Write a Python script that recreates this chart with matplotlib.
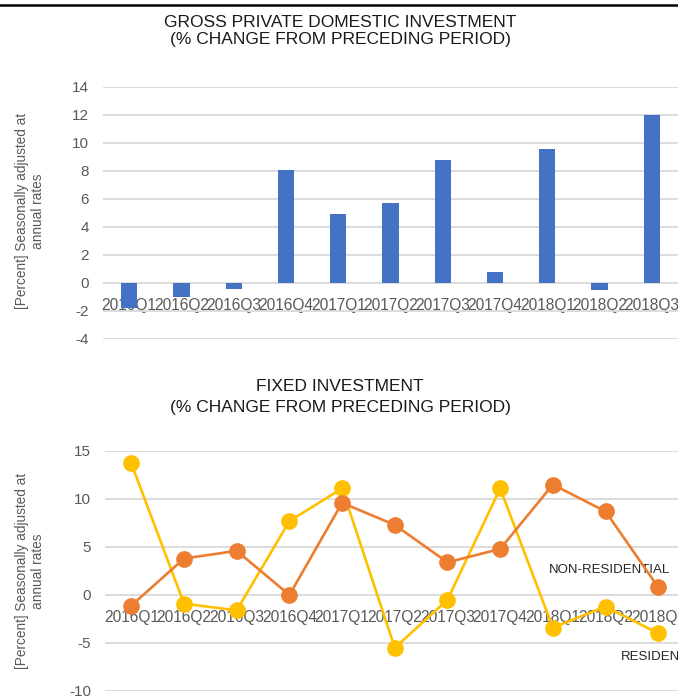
import matplotlib
matplotlib.use("Agg")
import matplotlib.pyplot as plt
from matplotlib.lines import Line2D
from matplotlib import font_manager

quarters = ["2016Q1", "2016Q2", "2016Q3", "2016Q4", "2017Q1", "2017Q2",
            "2017Q3", "2017Q4", "2018Q1", "2018Q2", "2018Q3"]
gross_investment = [-1.8, -1.0, -0.4, 8.1, 4.9, 5.7, 8.8, 0.8, 9.6, -0.5, 12.0]
non_residential = [-1.1, 3.8, 4.6, 0.0, 9.6, 7.3, 3.4, 4.8, 11.5, 8.7, 0.8]
residential = [13.7, -0.9, -1.6, 7.7, 11.1, -5.5, -0.5, 11.1, -3.4, -1.2, -4.0]

top_ticks = [-4, -2, 0, 2, 4, 6, 8, 10, 12, 14]
bottom_ticks = [-10, -5, 0, 5, 10, 15]

BLUE = "#4472C4"
ORANGE = "#ED7D31"
YELLOW = "#FFC000"
GRID = "#D9D9D9"
TXT = "#595959"

plt.rcParams['font.family'] = ['Liberation Sans', 'DejaVu Sans']
plt.rcParams['axes.unicode_minus'] = False

installed = {f.name for f in font_manager.fontManager.ttflist}
if 'Liberation Sans Narrow' in installed:
    label_font, label_size = 'Liberation Sans Narrow', 11
else:
    label_font, label_size = 'Liberation Sans', 9.5

W, H = 678, 696
fig = plt.figure(figsize=(W / 100, H / 100), dpi=100)


def px_axes(left, top, right, bottom):
    return fig.add_axes([left / W, 1 - bottom / H, (right - left) / W, (bottom - top) / H])


def style_axes(ax, ticks):
    ax.set_axisbelow(True)
    for s in ax.spines.values():
        s.set_visible(False)
    ax.set_yticks(ticks)
    ax.set_ylim(ticks[0], ticks[-1])
    ax.yaxis.grid(True, color=GRID, linewidth=1.3)
    ax.spines['bottom'].set_position(('data', 0))
    ax.tick_params(axis='y', length=0, pad=10, labelsize=11, labelcolor=TXT)
    ax.tick_params(axis='x', length=0, pad=11, labelsize=11.2, labelcolor=TXT)
    ax.set_xticks(range(len(quarters)))
    ax.set_xticklabels(quarters)
    ax.set_xlim(-0.5, len(quarters) - 0.5)


def y_title(ycenter):
    fig.text(30 / W, 1 - ycenter / H, "[Percent] Seasonally adjusted at\nannual rates",
             rotation=90, ha='center', va='center', fontsize=9.8, color=TXT,
             linespacing=1.25, multialignment='center')


# top chart: gross private domestic investment
ax1 = px_axes(103, 87, 678, 339)
ax1.bar(range(len(quarters)), gross_investment, width=0.31, color=BLUE, zorder=2)
style_axes(ax1, top_ticks)
y_title(211)

# bottom chart: fixed investment
ax2 = px_axes(105, 451, 684.6, 691)
ax2.plot(range(len(quarters)), residential, color=YELLOW, lw=1.9, marker='o',
         markersize=11, zorder=3, clip_on=False)
ax2.plot(range(len(quarters)), non_residential, color=ORANGE, lw=1.9, marker='o',
         markersize=11, zorder=4, clip_on=False)
style_axes(ax2, bottom_ticks)
y_title(571)

last = len(quarters) - 1
ax2.annotate("NON-RESIDENTIAL", xy=(last, non_residential[-1]), xytext=(-109, 17),
             textcoords='offset pixels', ha='left', va='center', fontsize=label_size,
             family=label_font, color="#262626", annotation_clip=False)
ax2.annotate("RESIDENTIAL", xy=(last, residential[-1]), xytext=(-37, -24),
             textcoords='offset pixels', ha='left', va='center', fontsize=label_size,
             family=label_font, color="#262626", annotation_clip=False)

fig.text(340 / W, 1 - 31 / H, "GROSS PRIVATE DOMESTIC INVESTMENT\n(% CHANGE FROM PRECEDING PERIOD)",
         ha='center', va='center', fontsize=12.5, color="#1a1a1a", linespacing=1.2)
fig.text(340 / W, 1 - 397 / H, "FIXED INVESTMENT\n(% CHANGE FROM PRECEDING PERIOD)",
         ha='center', va='center', fontsize=12.5, color="#1a1a1a", linespacing=1.45)

fig.add_artist(Line2D([0, 1], [1 - 4.5 / H, 1 - 4.5 / H], color='black', lw=1.8,
                      transform=fig.transFigure))

fig.savefig("out.png", dpi=100)
